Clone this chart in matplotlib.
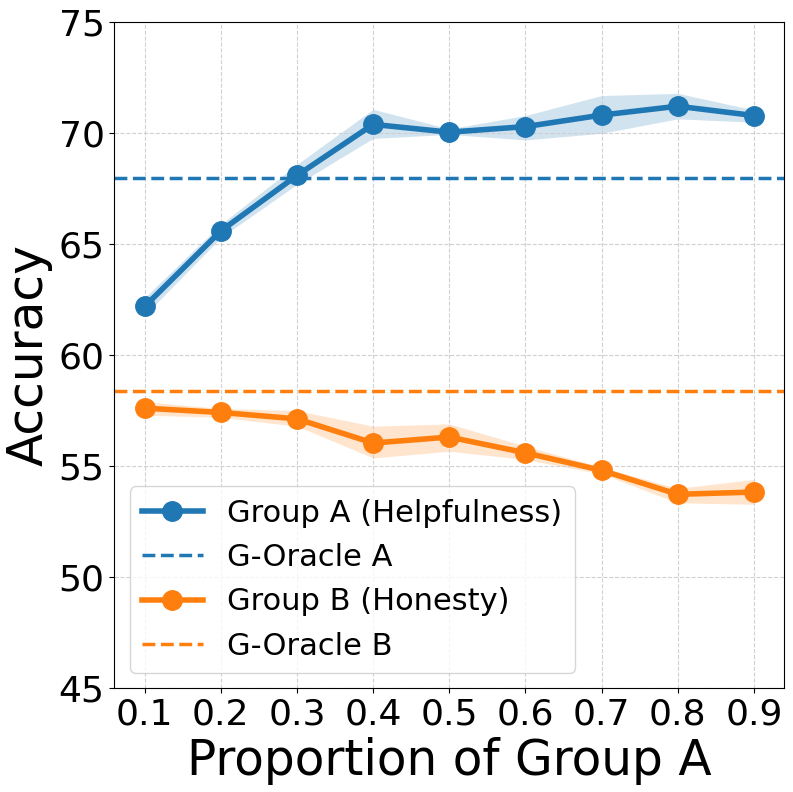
import numpy as np
import matplotlib
matplotlib.use('Agg')
import matplotlib.pyplot as plt

# data
proportions = [0.1, 0.2, 0.3, 0.4, 0.5, 0.6, 0.7, 0.8, 0.9]

acc_a = [62.2, 65.6, 68.1, 70.4, 70.05, 70.3, 70.82, 71.22, 70.8]
acc_a_upper = [62.6, 65.9, 68.6, 71.08, 70.2, 70.8, 71.7, 71.8, 71.05]
acc_a_lower = [61.8, 65.3, 67.7, 69.77, 69.95, 69.7, 70.0, 70.65, 70.5]

acc_b = [57.61, 57.42, 57.13, 56.04, 56.31, 55.6, 54.81, 53.73, 53.83]
acc_b_upper = [57.9, 57.6, 57.5, 56.8, 56.9, 55.9, 54.95, 54.0, 54.4]
acc_b_lower = [57.3, 57.2, 56.8, 55.37, 55.67, 55.3, 54.65, 53.35, 53.28]

oracle_a = 68.0
oracle_b = 58.4

c_a = '#1f77b4'
c_b = '#ff7f0e'

fig = plt.figure(figsize=(7.93, 7.92), dpi=100)
ax = fig.add_axes([0.1441, 0.1313, 0.8449, 0.8405])

ax.fill_between(proportions, acc_a_lower, acc_a_upper, color=c_a, alpha=0.2, linewidth=0)
ax.plot(proportions, acc_a, '-o', color=c_a, lw=4, markersize=14, label='Group A (Helpfulness)')
ax.axhline(oracle_a, color=c_a, ls='--', lw=2.5, label='G-Oracle A')

ax.fill_between(proportions, acc_b_lower, acc_b_upper, color=c_b, alpha=0.2, linewidth=0)
ax.plot(proportions, acc_b, '-o', color=c_b, lw=4, markersize=14, label='Group B (Honesty)')
ax.axhline(oracle_b, color=c_b, ls='--', lw=2.5, label='G-Oracle B')

ax.set_xlim(0.06, 0.94)
ax.set_ylim(45, 75)
ax.set_xticks(proportions)
ax.set_xticklabels([f'{p:.1f}' for p in proportions])
ax.tick_params(labelsize=26)
ax.grid(True, ls='--', color='#cccccc', lw=0.8, alpha=0.9)

ax.set_xlabel('Proportion of Group A', fontsize=35)
ax.set_ylabel('Accuracy', fontsize=35)

ax.legend(loc='lower left', fontsize=22, framealpha=0.8)

fig.savefig('out.png', dpi=100)
